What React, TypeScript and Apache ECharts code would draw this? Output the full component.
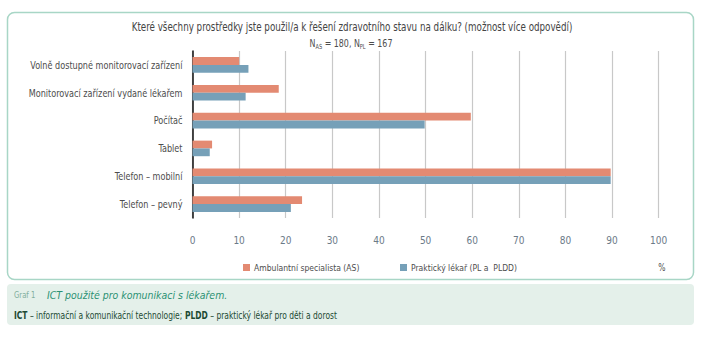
import React, { useEffect, useRef } from "react";
import * as echarts from "echarts";

const categories = [
  "Volně dostupné monitorovací zařízení",
  "Monitorovací zařízení vydané lékařem",
  "Počítač",
  "Tablet",
  "Telefon – mobilní",
  "Telefon – pevný",
];
const seriesAS = [10.0, 18.5, 59.7, 4.2, 89.7, 23.5];
const seriesPL = [12.0, 11.4, 49.8, 3.7, 89.7, 21.1];
const nameAS = "Ambulantní specialista (AS)";
const namePL = "Praktický lékař (PL a  PLDD)";
const xTicks = { min: 0, max: 100, interval: 10 };

const FONT = "'DejaVu Sans Condensed', 'DejaVu Sans', sans-serif";
const TXT = "#4d4d4d";
const C_AS = "#E38A72";
const C_PL = "#76A0B8";

export default function App() {
  const ref = useRef<HTMLDivElement>(null);
  useEffect(() => {
    document.body.style.margin = "0";
    const chart = echarts.init(ref.current!, undefined, { renderer: "svg" });
    chart.setOption({
      animation: false,
      textStyle: { fontFamily: FONT },
      graphic: [
        {
          id: "frame",
          type: "rect",
          z: -10,
          shape: { x: 7.5, y: 12.5, width: 686, height: 267, r: 7 },
          style: { fill: "#ffffff", stroke: "#a8d6c6", lineWidth: 1.5 },
        },
        {
          id: "capbox",
          type: "rect",
          z: -10,
          shape: { x: 7, y: 284, width: 687, height: 41, r: 4 },
          style: { fill: "#e4f0ea" },
        },
        {
          id: "title",
          type: "text",
          x: 352,
          y: 27,
          scaleX: 0.81,
          style: {
            text: "Které všechny prostředky jste použil/a k řešení zdravotního stavu na dálku? (možnost více odpovědí)",
            fill: "#444444",
            font: `12px ${FONT}`,
            align: "center",
            verticalAlign: "middle",
          },
        },
        {
          id: "sub",
          type: "text",
          x: 351,
          y: 43,
          scaleX: 0.8,
          style: {
            text: "N{s|AS} = 180, N{s|PL} = 167",
            fill: TXT,
            font: `11px ${FONT}`,
            align: "center",
            verticalAlign: "middle",
            rich: { s: { fontSize: 7, fill: TXT, fontFamily: FONT, padding: [6, 0, 0, 0] } },
          },
        },
        {
          id: "pct",
          type: "text",
          x: 662,
          y: 267,
          scaleX: 0.85,
          style: { text: "%", fill: TXT, font: `10px ${FONT}`, align: "center", verticalAlign: "middle" },
        },
        {
          id: "graf",
          type: "text",
          x: 14,
          y: 295,
          scaleX: 0.85,
          style: { text: "Graf 1", fill: "#7fae9c", font: `9px ${FONT}`, verticalAlign: "middle" },
        },
        {
          id: "capt",
          type: "text",
          x: 47,
          y: 295,
          scaleX: 0.95,
          style: {
            text: "ICT použité pro komunikaci s lékařem.",
            fill: "#2b9173",
            font: `italic 11px ${FONT}`,
            verticalAlign: "middle",
          },
        },
        {
          id: "note",
          type: "text",
          x: 14,
          y: 315,
          scaleX: 0.84,
          style: {
            text: "{b|ICT} – informační a komunikační technologie; {b|PLDD} – praktický lékař pro děti a dorost",
            fill: "#1d4a33",
            font: `10px ${FONT}`,
            verticalAlign: "middle",
            rich: { b: { fontWeight: "bold", fontSize: 10, fill: "#1d4a33", fontFamily: FONT } },
          },
        },
      ],
      legend: [
        {
          data: [nameAS],
          left: 238,
          top: 258,
          itemWidth: 7,
          itemHeight: 7,
          itemGap: 5,
          icon: "rect",
          textStyle: { color: TXT, fontSize: 8.5, fontFamily: FONT, padding: [0, 0, 0, -1] },
        },
        {
          data: [namePL],
          left: 395,
          top: 258,
          itemWidth: 7,
          itemHeight: 7,
          icon: "rect",
          textStyle: { color: TXT, fontSize: 8.5, fontFamily: FONT, padding: [0, 0, 0, -1] },
        },
      ],
      grid: { left: 192.5, top: 51, right: 47.3, bottom: 120, outerBoundsMode: "none", containLabel: false },
      xAxis: {
        type: "value",
        min: xTicks.min,
        max: xTicks.max,
        interval: xTicks.interval,
        axisLine: { show: false },
        axisTick: { show: false },
        splitLine: { lineStyle: { color: "#c8c8c8", width: 1.2 } },
        axisLabel: { color: "#6b7a88", fontSize: 10, fontFamily: FONT, margin: 17 },
      },
      yAxis: {
        type: "category",
        data: categories,
        inverse: true,
        axisLine: { lineStyle: { color: "#111111", width: 1.5 } },
        axisTick: { show: false },
        axisLabel: { show: false },
      },
      series: [
        {
          name: nameAS,
          type: "bar",
          data: seriesAS,
          itemStyle: { color: C_AS },
          barGap: "0%",
          barCategoryGap: "44%",
        },
        {
          name: namePL,
          type: "bar",
          data: seriesPL,
          itemStyle: { color: C_PL },
          barGap: "0%",
          barCategoryGap: "44%",
        },
      ],
    });
    // category labels placed through the library's own y scale, condensed horizontally
    const x0 = chart.convertToPixel({ xAxisIndex: 0 }, 0) as number;
    const labels = categories.map((c, i) => ({
      id: "ylab" + i,
      type: "text",
      x: x0 - 10,
      y: chart.convertToPixel({ yAxisIndex: 0 }, c) as number,
      scaleX: 0.82,
      style: {
        text: c,
        fill: TXT,
        font: `11px ${FONT}`,
        align: "right",
        verticalAlign: "middle",
      },
    }));
    chart.setOption({ graphic: labels });
    return () => chart.dispose();
  }, []);
  return (
    <div
      ref={ref}
      style={{ position: "absolute", left: 0, top: 0, width: 706, height: 338 }}
    />
  );
}
